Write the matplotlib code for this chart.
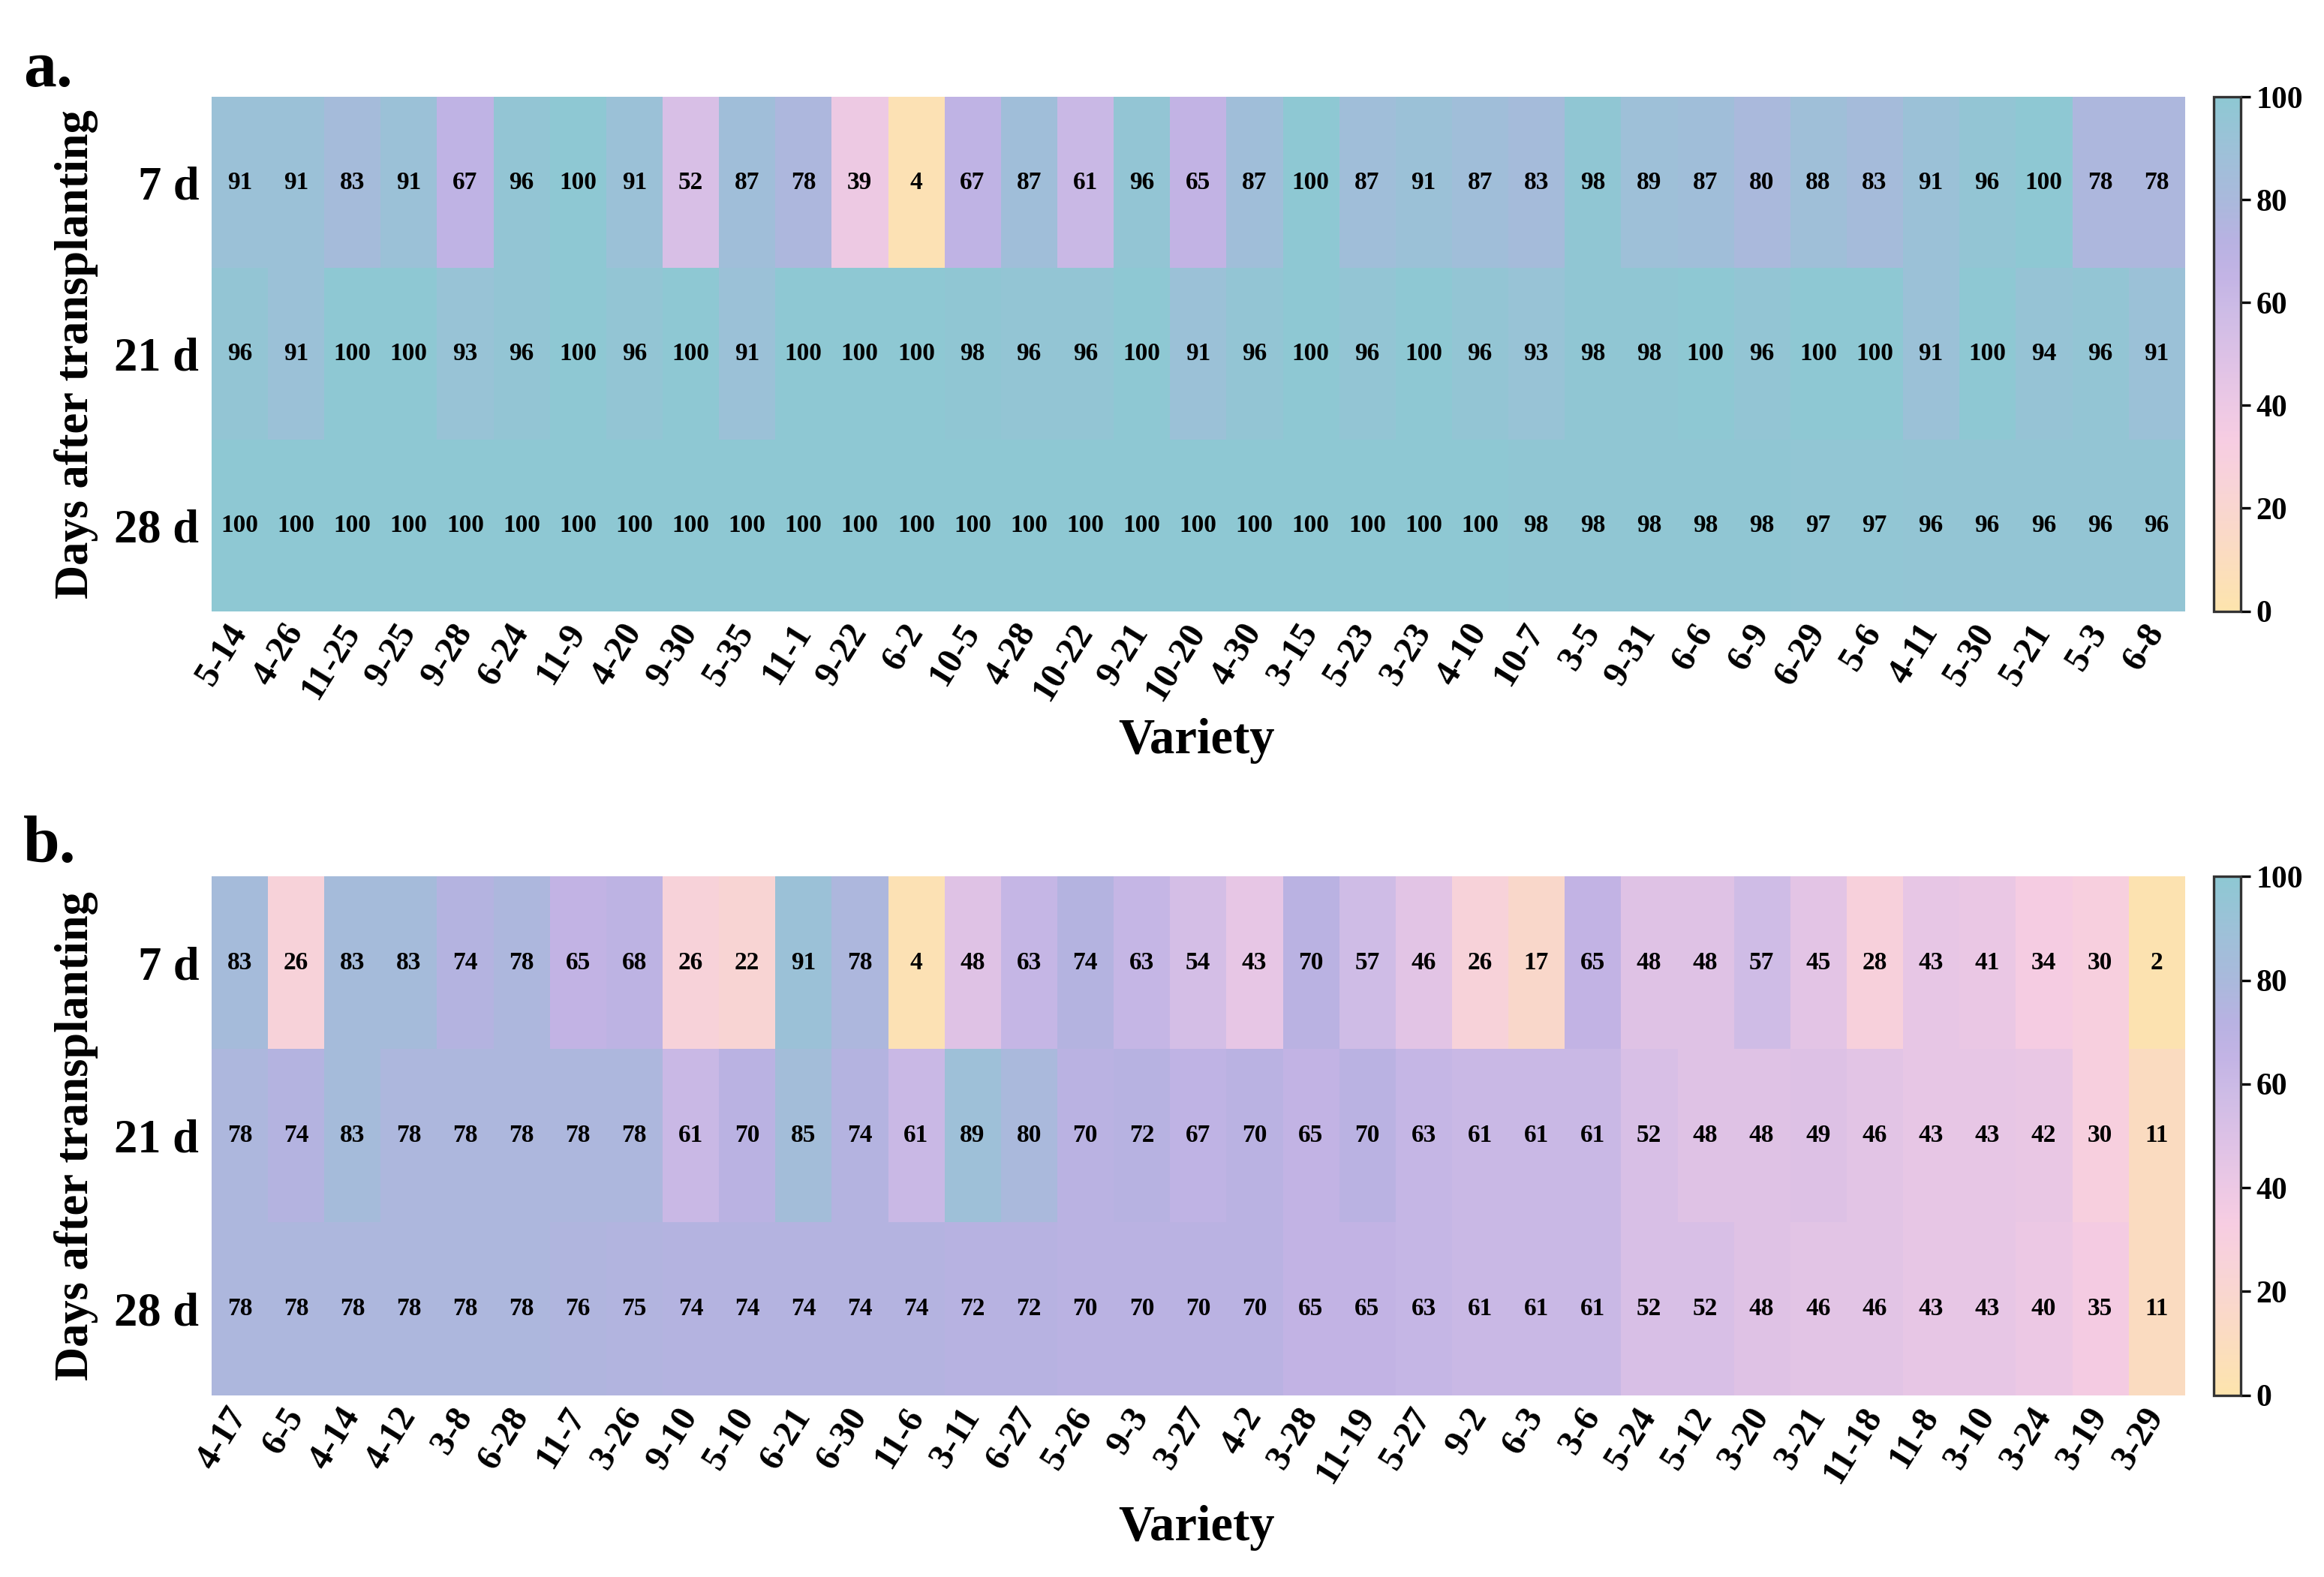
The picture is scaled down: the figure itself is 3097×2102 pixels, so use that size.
import numpy as np
import matplotlib
matplotlib.use('Agg')
import matplotlib.pyplot as plt
from matplotlib.colors import LinearSegmentedColormap

plt.rcParams['font.family'] = ['Liberation Serif', 'DejaVu Serif']
plt.rcParams['font.weight'] = 'bold'

days = ['7 d', '21 d', '28 d']

# panel a
varieties_a = ['5-14', '4-26', '11-25', '9-25', '9-28', '6-24', '11-9', '4-20', '9-30', '5-35',
               '11-1', '9-22', '6-2', '10-5', '4-28', '10-22', '9-21', '10-20', '4-30', '3-15',
               '5-23', '3-23', '4-10', '10-7', '3-5', '9-31', '6-6', '6-9', '6-29', '5-6',
               '4-11', '5-30', '5-21', '5-3', '6-8']
a_7d = [91, 91, 83, 91, 67, 96, 100, 91, 52, 87, 78, 39, 4, 67, 87, 61, 96, 65, 87, 100,
        87, 91, 87, 83, 98, 89, 87, 80, 88, 83, 91, 96, 100, 78, 78]
a_21d = [96, 91, 100, 100, 93, 96, 100, 96, 100, 91, 100, 100, 100, 98, 96, 96, 100, 91, 96, 100,
         96, 100, 96, 93, 98, 98, 100, 96, 100, 100, 91, 100, 94, 96, 91]
a_28d = [100, 100, 100, 100, 100, 100, 100, 100, 100, 100, 100, 100, 100, 100, 100, 100, 100, 100, 100, 100,
         100, 100, 100, 98, 98, 98, 98, 98, 97, 97, 96, 96, 96, 96, 96]

# panel b
varieties_b = ['4-17', '6-5', '4-14', '4-12', '3-8', '6-28', '11-7', '3-26', '9-10', '5-10',
               '6-21', '6-30', '11-6', '3-11', '6-27', '5-26', '9-3', '3-27', '4-2', '3-28',
               '11-19', '5-27', '9-2', '6-3', '3-6', '5-24', '5-12', '3-20', '3-21', '11-18',
               '11-8', '3-10', '3-24', '3-19', '3-29']
b_7d = [83, 26, 83, 83, 74, 78, 65, 68, 26, 22, 91, 78, 4, 48, 63, 74, 63, 54, 43, 70,
        57, 46, 26, 17, 65, 48, 48, 57, 45, 28, 43, 41, 34, 30, 2]
b_21d = [78, 74, 83, 78, 78, 78, 78, 78, 61, 70, 85, 74, 61, 89, 80, 70, 72, 67, 70, 65,
         70, 63, 61, 61, 61, 52, 48, 48, 49, 46, 43, 43, 42, 30, 11]
b_28d = [78, 78, 78, 78, 78, 78, 76, 75, 74, 74, 74, 74, 74, 72, 72, 70, 70, 70, 70, 65,
         65, 63, 61, 61, 61, 52, 52, 48, 46, 46, 43, 43, 40, 35, 11]

cmap = LinearSegmentedColormap.from_list('pastel', [
    (0.00, '#fde4ad'), (0.15, '#fad9c8'), (0.25, '#f8d3d8'), (0.33, '#f7cde2'),
    (0.42, '#e9c7e5'), (0.50, '#dcc1e6'), (0.58, '#cebce6'), (0.65, '#c3b4e5'),
    (0.72, '#b8b2e2'), (0.80, '#aab9dc'), (0.90, '#9dc1d8'), (1.00, '#8ec8d3')])

fig = plt.figure(figsize=(3097 / 300, 2102 / 300), dpi=300)

panels = [
    ('a.', varieties_a, [a_7d, a_21d, a_28d], 0.6125, 0.9386, 0.975, 0.530),
    ('b.', varieties_b, [b_7d, b_21d, b_28d], 0.1153, 0.4442, 0.483, 0.031),
]

for letter, names, rows, bot, top, let_y, var_y in panels:
    data = np.array(rows)
    ax = fig.add_axes([0.091, bot, 0.849, top - bot])
    im = ax.imshow(data, cmap=cmap, vmin=0, vmax=100, aspect='auto', interpolation='nearest')
    for i in range(data.shape[0]):
        for j in range(data.shape[1]):
            ax.text(j, i, str(data[i, j]), ha='center', va='center', fontsize=8,
                    fontweight='bold', color='black')
    ax.set_yticks(range(len(days)))
    ax.set_yticklabels(days, fontsize=15, fontweight='bold')
    ax.set_xticks(range(len(names)))
    ax.set_xticklabels(names, rotation=58, ha='right', va='center', rotation_mode='anchor',
                       fontsize=11.5, fontweight='bold')
    ax.tick_params(axis='y', length=0, pad=4)
    ax.tick_params(axis='x', length=0, pad=5)
    for s in ax.spines.values():
        s.set_visible(False)
    ax.set_ylabel('Days after transplanting', fontsize=15, fontweight='bold', labelpad=5)
    fig.text(0.515, var_y, 'Variety', ha='center', va='center', fontsize=16, fontweight='bold')
    fig.text(0.010, let_y, letter, ha='left', va='top', fontsize=21, fontweight='bold')

    cax = fig.add_axes([0.9525, bot, 0.0115, top - bot])
    cb = fig.colorbar(im, cax=cax, ticks=[0, 20, 40, 60, 80, 100])
    cb.outline.set_linewidth(0.8)
    cb.outline.set_edgecolor('#333333')
    cax.tick_params(labelsize=10, length=3, width=0.8, pad=2)
    for t in cax.get_yticklabels():
        t.set_fontweight('bold')

fig.savefig('out.png', dpi=300)
